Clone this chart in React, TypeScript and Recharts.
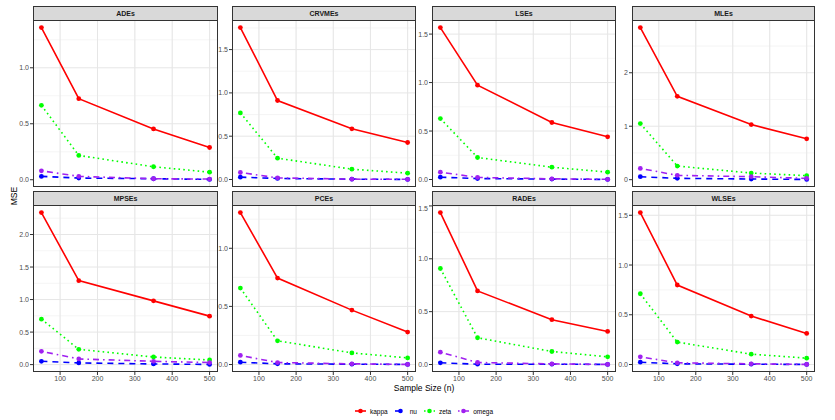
import React from 'react'
import { LineChart, Line, XAxis, YAxis, CartesianGrid } from 'recharts'

const sampleSizes = [50, 150, 350, 500]
const methods = ['ADEs', 'CRVMEs', 'LSEs', 'MLEs', 'MPSEs', 'PCEs', 'RADEs', 'WLSEs']

// MSE per method (same order as methods), one value per sample size
const kappaMse = [
  [1.359, 0.724, 0.454, 0.288],
  [1.754, 0.912, 0.585, 0.427],
  [1.567, 0.973, 0.588, 0.44],
  [2.845, 1.559, 1.031, 0.764],
  [2.337, 1.291, 0.98, 0.745],
  [1.307, 0.744, 0.468, 0.279],
  [1.437, 0.696, 0.424, 0.313],
  [1.527, 0.799, 0.487, 0.312],
]
const nuMse = [
  [0.03, 0.015, 0.009, 0.003],
  [0.027, 0.012, 0.004, 0.001],
  [0.024, 0.01, 0.004, 0.001],
  [0.056, 0.025, 0.012, 0.005],
  [0.051, 0.026, 0.01, 0.003],
  [0.02, 0.006, 0.003, 0.001],
  [0.016, 0.003, 0.003, 0.001],
  [0.023, 0.007, 0.003, 0.001],
]
const zetaMse = [
  [0.665, 0.217, 0.116, 0.068],
  [0.769, 0.246, 0.119, 0.073],
  [0.629, 0.227, 0.127, 0.076],
  [1.05, 0.255, 0.124, 0.075],
  [0.699, 0.235, 0.117, 0.071],
  [0.658, 0.204, 0.1, 0.057],
  [0.908, 0.253, 0.123, 0.073],
  [0.711, 0.225, 0.104, 0.064],
]
const omegaMse = [
  [0.08, 0.03, 0.009, 0.006],
  [0.081, 0.019, 0.004, 0.002],
  [0.076, 0.021, 0.007, 0.002],
  [0.211, 0.081, 0.056, 0.025],
  [0.204, 0.087, 0.051, 0.031],
  [0.078, 0.017, 0.006, 0.001],
  [0.117, 0.019, 0.006, 0.001],
  [0.077, 0.017, 0.007, 0.001],
]

const yTicks = [
  [0, 0.5, 1.0],
  [0, 0.5, 1.0, 1.5],
  [0, 0.5, 1.0, 1.5],
  [0, 1, 2],
  [0, 0.5, 1.0, 1.5, 2.0],
  [0, 0.5, 1.0],
  [0, 0.5, 1.0, 1.5],
  [0, 0.5, 1.0, 1.5],
]
const xTicks = [100, 200, 300, 400, 500]
const xGrid = [50, 100, 150, 200, 250, 300, 350, 400, 450, 500]

const series = [
  { key: 'kappa', values: kappaMse, color: '#FF0000', dash: undefined },
  { key: 'nu', values: nuMse, color: '#0000FF', dash: '6 5' },
  { key: 'zeta', values: zetaMse, color: '#00FF00', dash: '1.6 3.2' },
  { key: 'omega', values: omegaMse, color: '#A020F0', dash: '1.6 4 6 4' },
]

const FONT = '"Liberation Sans", Arial, sans-serif'
const colLeft = [33, 232, 432, 632]
const colWidth = [185, 184, 184, 183]
const rowStripTop = [6, 191]
const STRIP_H = 14
const PLOT_H = 167
const AXIS_W = 30

function Panel({ idx }: { idx: number }) {
  const row = Math.floor(idx / 4)
  const col = idx % 4
  const left = colLeft[col]
  const w = colWidth[col]
  const plotTop = rowStripTop[row] + STRIP_H
  const bottomRow = row === 1

  const data = sampleSizes.map((n, i) => {
    const d: Record<string, number> = { n }
    series.forEach((s) => (d[s.key] = s.values[idx][i]))
    return d
  })
  const all = series.flatMap((s) => s.values[idx])
  const lo = Math.min(...all)
  const hi = Math.max(...all)
  const pad = (hi - lo) * 0.05
  const domain: [number, number] = [lo - pad, hi + pad]
  const ticks = yTicks[idx]
  const step = ticks[1] - ticks[0]
  const minor = [ticks[0] - step / 2, ...ticks.map((t) => t + step / 2)].filter(
    (v) => v > domain[0] && v < domain[1]
  )
  const xPad = (500 - 50) * 0.05
  const decimals = step < 1 ? 1 : 0

  return (
    <>
      <div
        style={{
          position: 'absolute',
          left,
          top: rowStripTop[row],
          width: w,
          height: STRIP_H + 1,
          boxSizing: 'border-box',
          background: '#D9D9D9',
          border: '1px solid #333333',
          fontFamily: FONT,
          fontWeight: 'bold',
          fontSize: 7,
          color: '#1A1A1A',
          textAlign: 'center',
          lineHeight: '13px',
        }}
      >
        {methods[idx]}
      </div>
      <div style={{ position: 'absolute', left: left - AXIS_W, top: plotTop }}>
        <LineChart
          width={w + AXIS_W}
          height={PLOT_H + (bottomRow ? 16 : 0)}
          data={data}
          margin={{ top: 0, right: 0, bottom: 0, left: 0 }}
        >
          <CartesianGrid horizontalValues={minor} verticalValues={xGrid} stroke="#F0F0F0" strokeWidth={0.7} />
          <CartesianGrid horizontalValues={ticks} verticalValues={xTicks} stroke="#E6E6E6" strokeWidth={1} />
          <XAxis
            dataKey="n"
            type="number"
            domain={[50 - xPad, 500 + xPad]}
            ticks={xTicks}
            hide={!bottomRow}
            height={16}
            axisLine={false}
            tickSize={3}
            tickMargin={1}
            tickLine={{ stroke: '#333333' }}
            tick={{ fill: '#4D4D4D', fontSize: 7, fontFamily: FONT }}
          />
          <YAxis
            type="number"
            domain={domain}
            allowDataOverflow
            ticks={ticks}
            width={AXIS_W}
            axisLine={false}
            tickSize={3}
            tickMargin={1}
            tickLine={{ stroke: '#333333' }}
            tick={{ fill: '#4D4D4D', fontSize: 7, fontFamily: FONT }}
            tickFormatter={(v: number) => v.toFixed(decimals)}
          />
          {series.map((s) => (
            <Line
              key={s.key}
              dataKey={s.key}
              stroke={s.color}
              strokeWidth={1.6}
              strokeDasharray={s.dash}
              dot={{ r: 2.4, fill: s.color, stroke: 'none', strokeDasharray: '0' }}
              activeDot={false}
              isAnimationActive={false}
            />
          ))}
        </LineChart>
      </div>
      <div
        style={{
          position: 'absolute',
          left,
          top: plotTop,
          width: w,
          height: PLOT_H,
          boxSizing: 'border-box',
          border: '1px solid #333333',
          pointerEvents: 'none',
        }}
      />
    </>
  )
}

function LegendKey({ color, dash }: { color: string; dash?: string }) {
  return (
    <svg width={11} height={8} style={{ display: 'block' }}>
      <line x1={0} y1={4} x2={11} y2={4} stroke={color} strokeWidth={1.6} strokeDasharray={dash} />
      <circle cx={5.5} cy={4} r={2.3} fill={color} />
    </svg>
  )
}

export default function App() {
  return (
    <div
      style={{
        position: 'absolute',
        left: 0,
        top: 0,
        width: 835,
        height: 420,
        background: '#FFFFFF',
        fontFamily: FONT,
        overflow: 'hidden',
      }}
    >
      {methods.map((m, i) => (
        <Panel key={m} idx={i} />
      ))}
      <div
        style={{
          position: 'absolute',
          left: 14,
          top: 196,
          transform: 'translate(-50%, -50%) rotate(-90deg)',
          fontSize: 8.5,
          color: '#000',
        }}
      >
        MSE
      </div>
      <div
        style={{
          position: 'absolute',
          left: 33,
          width: 782,
          top: 383,
          textAlign: 'center',
          fontSize: 8.5,
          color: '#000',
        }}
      >
        Sample Size (n)
      </div>
      <div
        style={{
          position: 'absolute',
          left: 33,
          width: 782,
          top: 407,
          display: 'flex',
          justifyContent: 'center',
          alignItems: 'center',
          fontSize: 6.5,
          color: '#000',
        }}
      >
        {series.map((s) => (
          <div key={s.key} style={{ display: 'flex', alignItems: 'center', margin: '0 3.5px' }}>
            <LegendKey color={s.color} dash={s.dash} />
            <span style={{ marginLeft: 4 }}>{s.key}</span>
          </div>
        ))}
      </div>
    </div>
  )
}
